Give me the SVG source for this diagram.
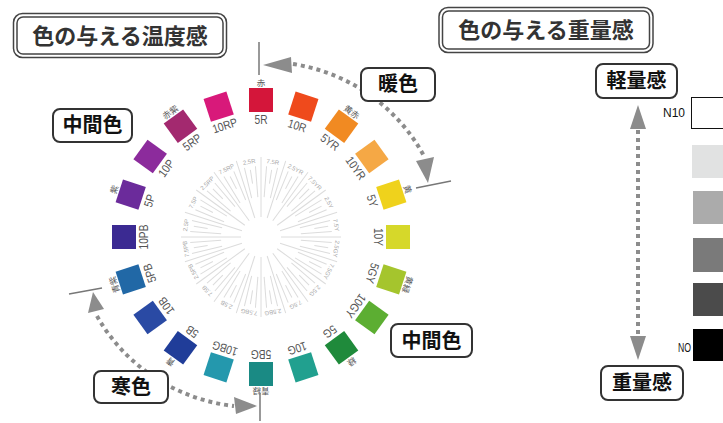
<svg xmlns="http://www.w3.org/2000/svg" xmlns:xlink="http://www.w3.org/1999/xlink" width="723" height="423" viewBox="0 0 723 423">
<style>
.hl{font-family:"Liberation Sans",Arial,sans-serif;font-size:12px;fill:#555;text-anchor:middle}
.jn{font-family:"Noto Sans CJK JP",sans-serif;font-size:8.5px;fill:#555;text-anchor:middle}
.il{font-family:"Liberation Sans",Arial,sans-serif;font-size:6px;fill:#a8a8a8;text-anchor:middle}
.rl{stroke:#dcdcdc;stroke-width:1}
.box{fill:#fff;stroke:#333;stroke-width:2}
.tbo{fill:#fff;stroke:#444;stroke-width:1.5}
.tbi{fill:none;stroke:#444;stroke-width:1.5}
.bt{font-family:"Noto Sans CJK JP",sans-serif;font-weight:700;font-size:20px;fill:#111;text-anchor:middle}
.tt{font-family:"Noto Sans CJK JP",sans-serif;font-weight:700;font-size:22px;fill:#333;text-anchor:middle}
.dot{fill:none;stroke:#8c8c8c;stroke-width:4;stroke-dasharray:4 4}
.ah{fill:#8c8c8c}
.tick{stroke:#777;stroke-width:1.5}
.nl{font-family:"Liberation Sans",Arial,sans-serif;font-size:12px;fill:#111}
</style>
<defs>
<line id="lm" class="rl" x1="0" y1="-20" x2="0" y2="-80"/>
<line id="ls" class="rl" x1="0" y1="-54" x2="0" y2="-68"/>
<line id="lq" class="rl" x1="0" y1="-40" x2="0" y2="-71"/>
</defs>
<rect width="723" height="423" fill="#fff"/>

<g id="title-temp">
<rect class="tbo" x="13.5" y="13.5" width="213" height="44" rx="9"/>
<rect class="tbi" x="17" y="17" width="206" height="37" rx="6"/>
<text class="tt" x="120" y="44">色の与える温度感</text>
</g>
<g id="title-weight">
<rect class="tbo" x="439" y="7.5" width="214" height="45" rx="9"/>
<rect class="tbi" x="442.5" y="11" width="207" height="38" rx="6"/>
<text class="tt" x="546" y="38">色の与える重量感</text>
</g>

<g id="wheel-inner" transform="translate(261,237)">
<use href="#lm"/><use href="#lm" transform="rotate(18)"/><use href="#lm" transform="rotate(36)"/><use href="#lm" transform="rotate(54)"/><use href="#lm" transform="rotate(72)"/><use href="#lm" transform="rotate(90)"/><use href="#lm" transform="rotate(108)"/><use href="#lm" transform="rotate(126)"/><use href="#lm" transform="rotate(144)"/><use href="#lm" transform="rotate(162)"/><use href="#lm" transform="rotate(180)"/><use href="#lm" transform="rotate(198)"/><use href="#lm" transform="rotate(216)"/><use href="#lm" transform="rotate(234)"/><use href="#lm" transform="rotate(252)"/><use href="#lm" transform="rotate(270)"/><use href="#lm" transform="rotate(288)"/><use href="#lm" transform="rotate(306)"/><use href="#lm" transform="rotate(324)"/><use href="#lm" transform="rotate(342)"/>
<use href="#ls" transform="rotate(-9)"/><use href="#ls" transform="rotate(9)"/><use href="#ls" transform="rotate(27)"/><use href="#ls" transform="rotate(45)"/><use href="#ls" transform="rotate(63)"/><use href="#ls" transform="rotate(81)"/><use href="#ls" transform="rotate(99)"/><use href="#ls" transform="rotate(117)"/><use href="#ls" transform="rotate(135)"/><use href="#ls" transform="rotate(153)"/><use href="#ls" transform="rotate(171)"/><use href="#ls" transform="rotate(189)"/><use href="#ls" transform="rotate(207)"/><use href="#ls" transform="rotate(225)"/><use href="#ls" transform="rotate(243)"/><use href="#ls" transform="rotate(261)"/><use href="#ls" transform="rotate(279)"/><use href="#ls" transform="rotate(297)"/><use href="#ls" transform="rotate(315)"/><use href="#ls" transform="rotate(333)"/>
<use href="#lq" transform="rotate(4.5)"/><use href="#lq" transform="rotate(-4.5)"/><use href="#lq" transform="rotate(22.5)"/><use href="#lq" transform="rotate(13.5)"/><use href="#lq" transform="rotate(40.5)"/><use href="#lq" transform="rotate(31.5)"/><use href="#lq" transform="rotate(58.5)"/><use href="#lq" transform="rotate(49.5)"/><use href="#lq" transform="rotate(76.5)"/><use href="#lq" transform="rotate(67.5)"/><use href="#lq" transform="rotate(94.5)"/><use href="#lq" transform="rotate(85.5)"/><use href="#lq" transform="rotate(112.5)"/><use href="#lq" transform="rotate(103.5)"/><use href="#lq" transform="rotate(130.5)"/><use href="#lq" transform="rotate(121.5)"/><use href="#lq" transform="rotate(148.5)"/><use href="#lq" transform="rotate(139.5)"/><use href="#lq" transform="rotate(166.5)"/><use href="#lq" transform="rotate(157.5)"/><use href="#lq" transform="rotate(184.5)"/><use href="#lq" transform="rotate(175.5)"/><use href="#lq" transform="rotate(202.5)"/><use href="#lq" transform="rotate(193.5)"/><use href="#lq" transform="rotate(220.5)"/><use href="#lq" transform="rotate(211.5)"/><use href="#lq" transform="rotate(238.5)"/><use href="#lq" transform="rotate(229.5)"/><use href="#lq" transform="rotate(256.5)"/><use href="#lq" transform="rotate(247.5)"/><use href="#lq" transform="rotate(274.5)"/><use href="#lq" transform="rotate(265.5)"/><use href="#lq" transform="rotate(292.5)"/><use href="#lq" transform="rotate(283.5)"/><use href="#lq" transform="rotate(310.5)"/><use href="#lq" transform="rotate(301.5)"/><use href="#lq" transform="rotate(328.5)"/><use href="#lq" transform="rotate(319.5)"/><use href="#lq" transform="rotate(346.5)"/><use href="#lq" transform="rotate(337.5)"/>
<text class="il" y="-74" transform="rotate(-9)">2.5R</text>
<text class="il" y="-74" transform="rotate(9)">7.5R</text>
<text class="il" y="-74" transform="rotate(27)">2.5YR</text>
<text class="il" y="-74" transform="rotate(45)">7.5YR</text>
<text class="il" y="-74" transform="rotate(63)">2.5Y</text>
<text class="il" y="-74" transform="rotate(81)">7.5Y</text>
<text class="il" y="-74" transform="rotate(99)">2.5GY</text>
<text class="il" y="-74" transform="rotate(117)">7.5GY</text>
<text class="il" y="-74" transform="rotate(135)">2.5G</text>
<text class="il" y="-74" transform="rotate(153)">7.5G</text>
<text class="il" y="-74" transform="rotate(171)">2.5BG</text>
<text class="il" y="-74" transform="rotate(189)">7.5BG</text>
<text class="il" y="-74" transform="rotate(207)">2.5B</text>
<text class="il" y="-74" transform="rotate(225)">7.5B</text>
<text class="il" y="-74" transform="rotate(243)">2.5PB</text>
<text class="il" y="-74" transform="rotate(261)">7.5PB</text>
<text class="il" y="-74" transform="rotate(279)">2.5P</text>
<text class="il" y="-74" transform="rotate(297)">7.5P</text>
<text class="il" y="-74" transform="rotate(315)">2.5RP</text>
<text class="il" y="-74" transform="rotate(333)">7.5RP</text>
</g>

<g id="hues" transform="translate(261,237)">
<g id="h-5R" transform="rotate(0)"><rect x="-12" y="-149" width="24" height="24" fill="#d4163a"/><text class="hl" y="-113" transform="scale(.85,1)">5R</text><text class="jn" y="-151">赤</text></g>
<g id="h-10R" transform="rotate(18)"><rect x="-12" y="-149" width="24" height="24" fill="#ef4a1c"/><text class="hl" y="-113" transform="scale(.85,1)">10R</text></g>
<g id="h-5YR" transform="rotate(36)"><rect x="-12" y="-149" width="24" height="24" fill="#f18a22"/><text class="hl" y="-113" transform="scale(.85,1)">5YR</text><text class="jn" y="-151">黄赤</text></g>
<g id="h-10YR" transform="rotate(54)"><rect x="-12" y="-149" width="24" height="24" fill="#f5a845"/><text class="hl" y="-113" transform="scale(.85,1)">10YR</text></g>
<g id="h-5Y" transform="rotate(72)"><rect x="-12" y="-149" width="24" height="24" fill="#efd21c"/><text class="hl" y="-113" transform="scale(.85,1)">5Y</text><text class="jn" y="-151">黄</text></g>
<g id="h-10Y" transform="rotate(90)"><rect x="-12" y="-149" width="24" height="24" fill="#d6d82a"/><text class="hl" y="-113" transform="scale(.85,1)">10Y</text></g>
<g id="h-5GY" transform="rotate(108)"><rect x="-12" y="-149" width="24" height="24" fill="#a5c52d"/><text class="hl" y="-113" transform="scale(.85,1)">5GY</text><text class="jn" y="-151">黄緑</text></g>
<g id="h-10GY" transform="rotate(126)"><rect x="-12" y="-149" width="24" height="24" fill="#5cae32"/><text class="hl" y="-113" transform="scale(.85,1)">10GY</text></g>
<g id="h-5G" transform="rotate(144)"><rect x="-12" y="-149" width="24" height="24" fill="#1f8a3b"/><text class="hl" y="-113" transform="scale(.85,1)">5G</text><text class="jn" y="-151">緑</text></g>
<g id="h-10G" transform="rotate(162)"><rect x="-12" y="-149" width="24" height="24" fill="#21a08f"/><text class="hl" y="-113" transform="scale(.85,1)">10G</text></g>
<g id="h-5BG" transform="rotate(180)"><rect x="-12" y="-149" width="24" height="24" fill="#1a8a84"/><text class="hl" y="-113" transform="scale(.85,1)">5BG</text><text class="jn" y="-151">青緑</text></g>
<g id="h-10BG" transform="rotate(198)"><rect x="-12" y="-149" width="24" height="24" fill="#2498ad"/><text class="hl" y="-113" transform="scale(.85,1)">10BG</text></g>
<g id="h-5B" transform="rotate(216)"><rect x="-12" y="-149" width="24" height="24" fill="#203d99"/><text class="hl" y="-113" transform="scale(.85,1)">5B</text><text class="jn" y="-151">青</text></g>
<g id="h-10B" transform="rotate(234)"><rect x="-12" y="-149" width="24" height="24" fill="#2a4aa4"/><text class="hl" y="-113" transform="scale(.85,1)">10B</text></g>
<g id="h-5PB" transform="rotate(252)"><rect x="-12" y="-149" width="24" height="24" fill="#2168a6"/><text class="hl" y="-113" transform="scale(.85,1)">5PB</text><text class="jn" y="-151">青紫</text></g>
<g id="h-10PB" transform="rotate(270)"><rect x="-12" y="-149" width="24" height="24" fill="#3b2a92"/><text class="hl" y="-113" transform="scale(.85,1)">10PB</text></g>
<g id="h-5P" transform="rotate(288)"><rect x="-12" y="-149" width="24" height="24" fill="#6b2b9b"/><text class="hl" y="-113" transform="scale(.85,1)">5P</text><text class="jn" y="-151">紫</text></g>
<g id="h-10P" transform="rotate(306)"><rect x="-12" y="-149" width="24" height="24" fill="#8c2b9c"/><text class="hl" y="-113" transform="scale(.85,1)">10P</text></g>
<g id="h-5RP" transform="rotate(324)"><rect x="-12" y="-149" width="24" height="24" fill="#a3296f"/><text class="hl" y="-113" transform="scale(.85,1)">5RP</text><text class="jn" y="-151">赤紫</text></g>
<g id="h-10RP" transform="rotate(342)"><rect x="-12" y="-149" width="24" height="24" fill="#d8197a"/><text class="hl" y="-113" transform="scale(.85,1)">10RP</text></g>
</g>

<g id="connectors">
<line class="tick" x1="259" y1="42" x2="259" y2="75"/>
<line class="tick" x1="416" y1="188" x2="451" y2="181"/>
<line class="tick" x1="69" y1="294" x2="102" y2="288"/>
<line class="tick" x1="260" y1="393" x2="260" y2="421"/>
<path class="dot" d="M 293 64 A 180 178 0 0 1 424 156"/>
<polygon class="ah" points="263,65 291,57 292,73"/>
<polygon class="ah" points="416,161 434,157 428,183"/>
<path class="dot" d="M 97 316 A 180 176 0 0 0 234 406"/>
<polygon class="ah" points="93,292 88,313 104,309"/>
<polygon class="ah" points="257,406 234,397 236,414"/>
<path class="dot" d="M 638 130 V 336"/>
<polygon class="ah" points="638,105 630,129 646,129"/>
<polygon class="ah" points="638,360 630,336 646,336"/>
</g>

<g id="warm"><rect class="box" x="361" y="68" width="74" height="33" rx="7"/><text class="bt" x="398" y="91">暖色</text></g>
<g id="mid-left"><rect class="box" x="53" y="109" width="79" height="33" rx="7"/><text class="bt" x="92.5" y="132">中間色</text></g>
<g id="mid-right"><rect class="box" x="391" y="324" width="81" height="33" rx="7"/><text class="bt" x="431.5" y="347.5">中間色</text></g>
<g id="cold"><rect class="box" x="94" y="371" width="74" height="32" rx="7"/><text class="bt" x="131" y="394">寒色</text></g>
<g id="light"><rect class="box" x="596" y="64" width="81" height="34" rx="7"/><text class="bt" x="636.5" y="88">軽量感</text></g>
<g id="heavy"><rect class="box" x="601" y="366" width="82" height="34" rx="7"/><text class="bt" x="642" y="390">重量感</text></g>

<g id="scale">
<rect x="691.5" y="97.5" width="40" height="31" fill="#fff" stroke="#111" stroke-width="1"/>
<rect x="692" y="145" width="40" height="33" fill="#e1e2e2"/>
<rect x="693" y="191" width="40" height="33" fill="#ababab"/>
<rect x="693" y="238" width="40" height="34" fill="#7a7a7a"/>
<rect x="693" y="283" width="40" height="33" fill="#4b4b4b"/>
<rect x="693" y="329" width="40" height="32" fill="#000"/>
<text class="nl" x="663" y="117" textLength="22" lengthAdjust="spacingAndGlyphs">N10</text>
<text class="nl" x="678" y="352" textLength="13" lengthAdjust="spacingAndGlyphs">NO</text>
</g>
</svg>
